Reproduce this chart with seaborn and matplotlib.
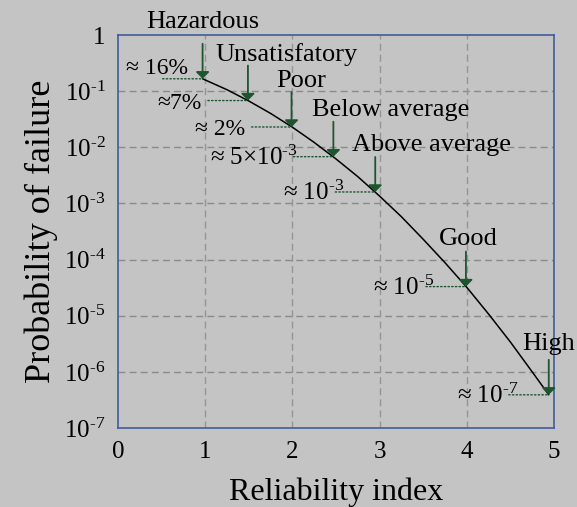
import pandas as pd
import matplotlib.pyplot as plt
import seaborn as sns

sns.set_style('ticks')
plt.rcParams['font.family'] = 'serif'
plt.rcParams['font.serif'] = ['Liberation Serif', 'DejaVu Serif']
plt.rcParams['mathtext.fontset'] = 'custom'
plt.rcParams['mathtext.rm'] = 'Liberation Serif'
plt.rcParams['mathtext.it'] = 'Liberation Serif:italic'
plt.rcParams['mathtext.fallback'] = 'stix'
plt.rcParams['text.color'] = 'black'
plt.rcParams['axes.labelcolor'] = 'black'
plt.rcParams['xtick.color'] = 'black'
plt.rcParams['ytick.color'] = 'black'

BG = '#c4c4c4'
FRAME = '#3f5c99'
GREEN = '#1d5530'

# failure probability curve
beta = [0.97, 1.25, 1.5, 1.75, 2.0, 2.25, 2.5, 2.75, 3.0, 3.25, 3.5,
        3.75, 4.0, 4.25, 4.5, 4.75, 4.94]
pf = [0.166, 0.106, 0.0668, 0.0401, 0.0228, 0.0122, 0.0062, 0.0030,
      0.00135, 5.8e-4, 2.3e-4, 8.8e-5, 3.2e-5, 1.07e-5, 3.4e-6, 1.0e-6, 3.9e-7]

# reliability levels
levels = ['Hazardous', 'Unsatisfatory', 'Poor', 'Below average',
          'Above average', 'Good', 'High']
level_beta = [0.97, 1.49, 1.99, 2.47, 2.95, 3.99, 4.94]
level_pf = [0.166, 0.068, 0.023, 0.0068, 0.0016, 3.3e-5, 3.9e-7]
level_approx = ['≈ 16%', '≈7%', '≈ 2%',
                r'≈ $\mathregular{5{\times}10^{\text{-}3}}$',
                r'≈ $\mathregular{10^{\text{-}3}}$',
                r'≈ $\mathregular{10^{\text{-}5}}$',
                r'≈ $\mathregular{10^{\text{-}7}}$']

xticks = [0, 1, 2, 3, 4, 5]
yticks = [1, 1e-1, 1e-2, 1e-3, 1e-4, 1e-5, 1e-6, 1e-7]
ytick_labels = ['1'] + [r'$\mathregular{10^{\text{-}%d}}$' % k for k in range(1, 8)]

# label placement (pixels)
top_dx = [0, 39, 10, 57, 56, 2, 0]
top_gap = [16, 5, 5, 6, 6, 7, 10]
left_dx = [-15, -46, -46, -36, -31, -32, -31]
left_dy = [5, -8, -8, -8, -8, -8, -8]
left_size = [17, 17, 17, 18, 18, 18, 18]
ARROW_LEN = 35

df = pd.DataFrame({'beta': beta, 'pf': pf})

fig = plt.figure(figsize=(5.77, 5.07), dpi=100, facecolor=BG)
ax = fig.add_axes([118 / 577, 1 - 428 / 507, (554 - 118) / 577, (428 - 35) / 507])
ax.set_facecolor(BG)

sns.lineplot(data=df, x='beta', y='pf', color='black', lw=1.1, ax=ax, zorder=3)
ax.set_yscale('log')
ax.set_xlim(0, 5)
ax.set_ylim(1e-7, 1)
ax.minorticks_off()
ax.set_xticks(xticks, [str(t) for t in xticks])
ax.set_yticks(yticks, ytick_labels)
ax.tick_params(axis='both', length=0, labelsize=18, pad=9)

for y in yticks[1:-1]:
    ax.axhline(y, color='#8a8a8a', lw=1.0, ls=(0, (5, 3)), zorder=1)
for x in xticks[1:-1]:
    ax.axvline(x, color='#959595', lw=1.0, ls=(0, (5, 3)), zorder=1)

for s in ax.spines.values():
    s.set_color(FRAME)
    s.set_linewidth(1.2)

ax.set_xlabel('Reliability index', fontsize=23, labelpad=11)
ax.set_ylabel('Probability of failure', fontsize=26, labelpad=4)

for i, name in enumerate(levels):
    b, p = level_beta[i], level_pf[i]
    # arrow down to the curve
    ax.annotate('', xy=(b, p), xytext=(0, ARROW_LEN), textcoords='offset pixels',
                arrowprops=dict(arrowstyle='-|>,head_length=0.4,head_width=0.4',
                                mutation_scale=10, color=GREEN, lw=1.3,
                                shrinkA=0, shrinkB=0), zorder=4)
    ax.annotate(name, xy=(b, p), xytext=(top_dx[i], ARROW_LEN + top_gap[i]),
                textcoords='offset pixels', ha='center', va='baseline',
                fontsize=19, annotation_clip=False)
    # dotted leader to the value
    ax.annotate('', xy=(b, p), xytext=(-40, 0), textcoords='offset pixels',
                arrowprops=dict(arrowstyle='-', color=GREEN, lw=1.0, ls=':',
                                shrinkA=0, shrinkB=0))
    ax.annotate(level_approx[i], xy=(b, p), xytext=(left_dx[i], left_dy[i]),
                textcoords='offset pixels', ha='right', va='baseline',
                fontsize=left_size[i], annotation_clip=False)

fig.savefig('out.png', dpi=100, facecolor=BG)
